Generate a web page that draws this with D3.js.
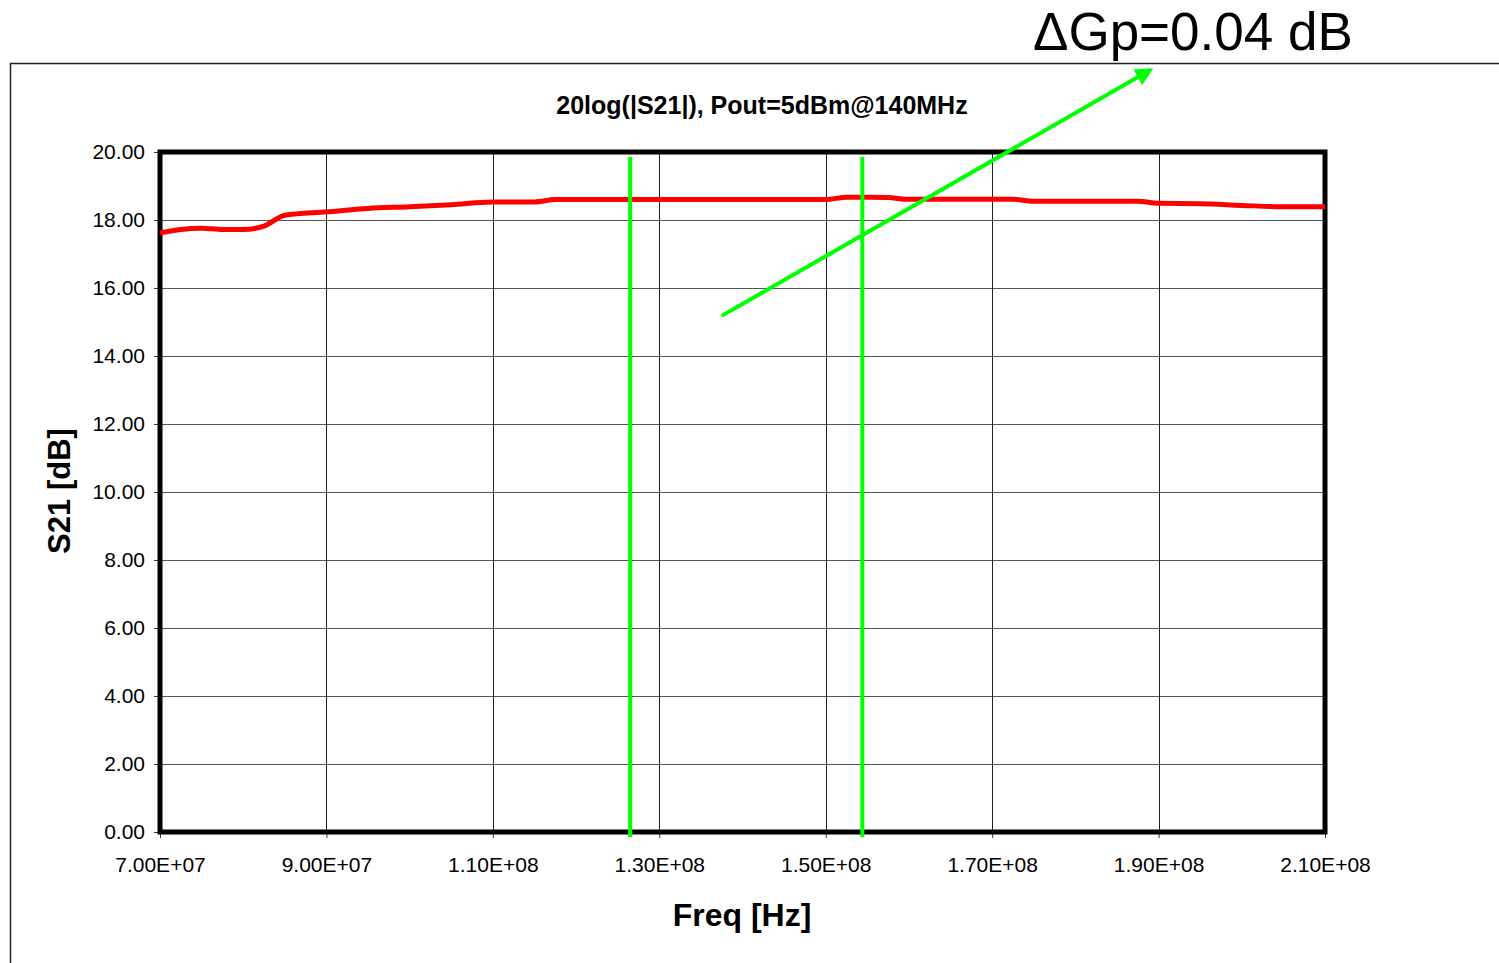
<!DOCTYPE html>
<html>
<head>
<meta charset="utf-8">
<script src="https://cdn.jsdelivr.net/npm/d3@7"></script>
<style>
  body { margin: 0; background: #fff; }
  svg { display: block; font-family: "Liberation Sans", Arial, sans-serif; }
</style>
</head>
<body>
<svg width="1499" height="963"></svg>
<script>
// measured S21 (frequency in Hz, gain in dB)
const freqs = [70e6, 72.5e6, 75e6, 77.5e6, 80e6, 82.5e6, 85e6, 90e6, 95e6, 100e6, 105e6, 110e6, 115e6, 117.5e6,
  120e6, 125e6, 130e6, 135e6, 140e6, 145e6, 150e6, 152.5e6, 155e6, 157.5e6, 160e6, 165e6, 170e6, 172.5e6,
  175e6, 180e6, 185e6, 187.5e6, 190e6, 195e6, 200e6, 205e6, 210e6]
const gains = [17.62, 17.72, 17.76, 17.72, 17.72, 17.82, 18.14, 18.24, 18.34, 18.39, 18.45, 18.53, 18.53, 18.6,
  18.6, 18.6, 18.6, 18.6, 18.6, 18.6, 18.6, 18.67, 18.67, 18.66, 18.61, 18.61, 18.61, 18.61,
  18.55, 18.55, 18.55, 18.55, 18.49, 18.48, 18.43, 18.39, 18.39]

const xTicks = [70e6, 90e6, 110e6, 130e6, 150e6, 170e6, 190e6, 210e6]
const yTicks = [0, 2, 4, 6, 8, 10, 12, 14, 16, 18, 20]

// green marker lines and the annotation arrow
const markerFreqs = [126.5e6, 154.4e6]
const arrowFreqs = [137.5e6, 189e6]
const arrowGains = [15.18, 22.41]

const svg = d3.select('svg')
const plotL = 160, plotR = 1325, plotT = 152, plotB = 832

const x = d3.scaleLinear().domain([70e6, 210e6]).range([plotL, plotR])
const y = d3.scaleLinear().domain([0, 20]).range([plotB, plotT])

// outer chart frame (only top and left edge visible)
svg.append('path')
  .attr('d', 'M10.5,963 V63.5 H1499')
  .attr('fill', 'none')
  .attr('stroke', '#222')
  .attr('stroke-width', 1.5)

// grid
svg.append('g').selectAll('line')
  .data(yTicks)
  .enter().append('line')
  .attr('x1', plotL).attr('x2', plotR)
  .attr('y1', d => Math.round(y(d)) + 0.5).attr('y2', d => Math.round(y(d)) + 0.5)
  .attr('stroke', '#555')
svg.append('g').selectAll('line')
  .data(xTicks)
  .enter().append('line')
  .attr('y1', plotT).attr('y2', plotB)
  .attr('x1', d => Math.round(x(d)) + 0.5).attr('x2', d => Math.round(x(d)) + 0.5)
  .attr('stroke', '#222')

// axes
const yAxis = svg.append('g')
  .attr('transform', `translate(${plotL},0)`)
  .call(d3.axisLeft(y).tickValues(yTicks).tickFormat(d3.format('.2f')).tickSize(6).tickPadding(9))
const xAxis = svg.append('g')
  .attr('transform', `translate(0,${plotB})`)
  .call(d3.axisBottom(x).tickValues(xTicks).tickFormat(d => d3.format('.2e')(d).toUpperCase().replace(/E\+(\d)$/, 'E+0$1')).tickSize(6).tickPadding(19))
;[yAxis, xAxis].forEach(a => {
  a.select('.domain').remove()
  a.selectAll('text').attr('font-size', 21).attr('fill', '#000').attr('font-family', '"Liberation Sans", Arial, sans-serif')
  a.selectAll('line').attr('stroke', '#333')
})

// plot border
svg.append('rect')
  .attr('x', plotL).attr('y', plotT)
  .attr('width', plotR - plotL).attr('height', plotB - plotT)
  .attr('fill', 'none')
  .attr('stroke', '#000')
  .attr('stroke-width', 5)

// S21 curve
const line = d3.line()
  .x((d, i) => x(freqs[i]))
  .y(d => y(d))
  .curve(d3.curveMonotoneX)
svg.append('path')
  .datum(gains)
  .attr('d', line)
  .attr('fill', 'none')
  .attr('stroke', '#ff0000')
  .attr('stroke-width', 5)
  .attr('stroke-linejoin', 'round')

// green markers
svg.append('g').selectAll('line')
  .data(markerFreqs)
  .enter().append('line')
  .attr('x1', d => x(d)).attr('x2', d => x(d))
  .attr('y1', plotT + 5).attr('y2', plotB + 5)
  .attr('stroke', '#00ff00')
  .attr('stroke-width', 4)

svg.append('defs').append('marker')
  .attr('id', 'arrow')
  .attr('viewBox', '0 0 10 10')
  .attr('refX', 8).attr('refY', 5)
  .attr('markerWidth', 4.5).attr('markerHeight', 4.5)
  .attr('orient', 'auto')
  .append('path')
  .attr('d', 'M0,0 L10,5 L0,10 z')
  .attr('fill', '#00ff00')

svg.append('line')
  .attr('x1', x(arrowFreqs[0])).attr('y1', y(arrowGains[0]))
  .attr('x2', x(arrowFreqs[1])).attr('y2', y(arrowGains[1]))
  .attr('stroke', '#00ff00')
  .attr('stroke-width', 4)
  .attr('marker-end', 'url(#arrow)')

// texts
svg.append('text')
  .attr('x', 762).attr('y', 114)
  .attr('text-anchor', 'middle')
  .attr('font-size', 25).attr('font-weight', 'bold')
  .text('20log(|S21|), Pout=5dBm@140MHz')

svg.append('text')
  .attr('x', 1033).attr('y', 50)
  .attr('font-size', 53)
  .text('\u0394Gp=0.04 dB')

svg.append('text')
  .attr('x', 742).attr('y', 926)
  .attr('text-anchor', 'middle')
  .attr('font-size', 32).attr('font-weight', 'bold')
  .text('Freq [Hz]')

svg.append('text')
  .attr('transform', 'translate(70,491) rotate(-90)')
  .attr('text-anchor', 'middle')
  .attr('font-size', 31).attr('font-weight', 'bold')
  .text('S21 [dB]')
</script>
</body>
</html>
